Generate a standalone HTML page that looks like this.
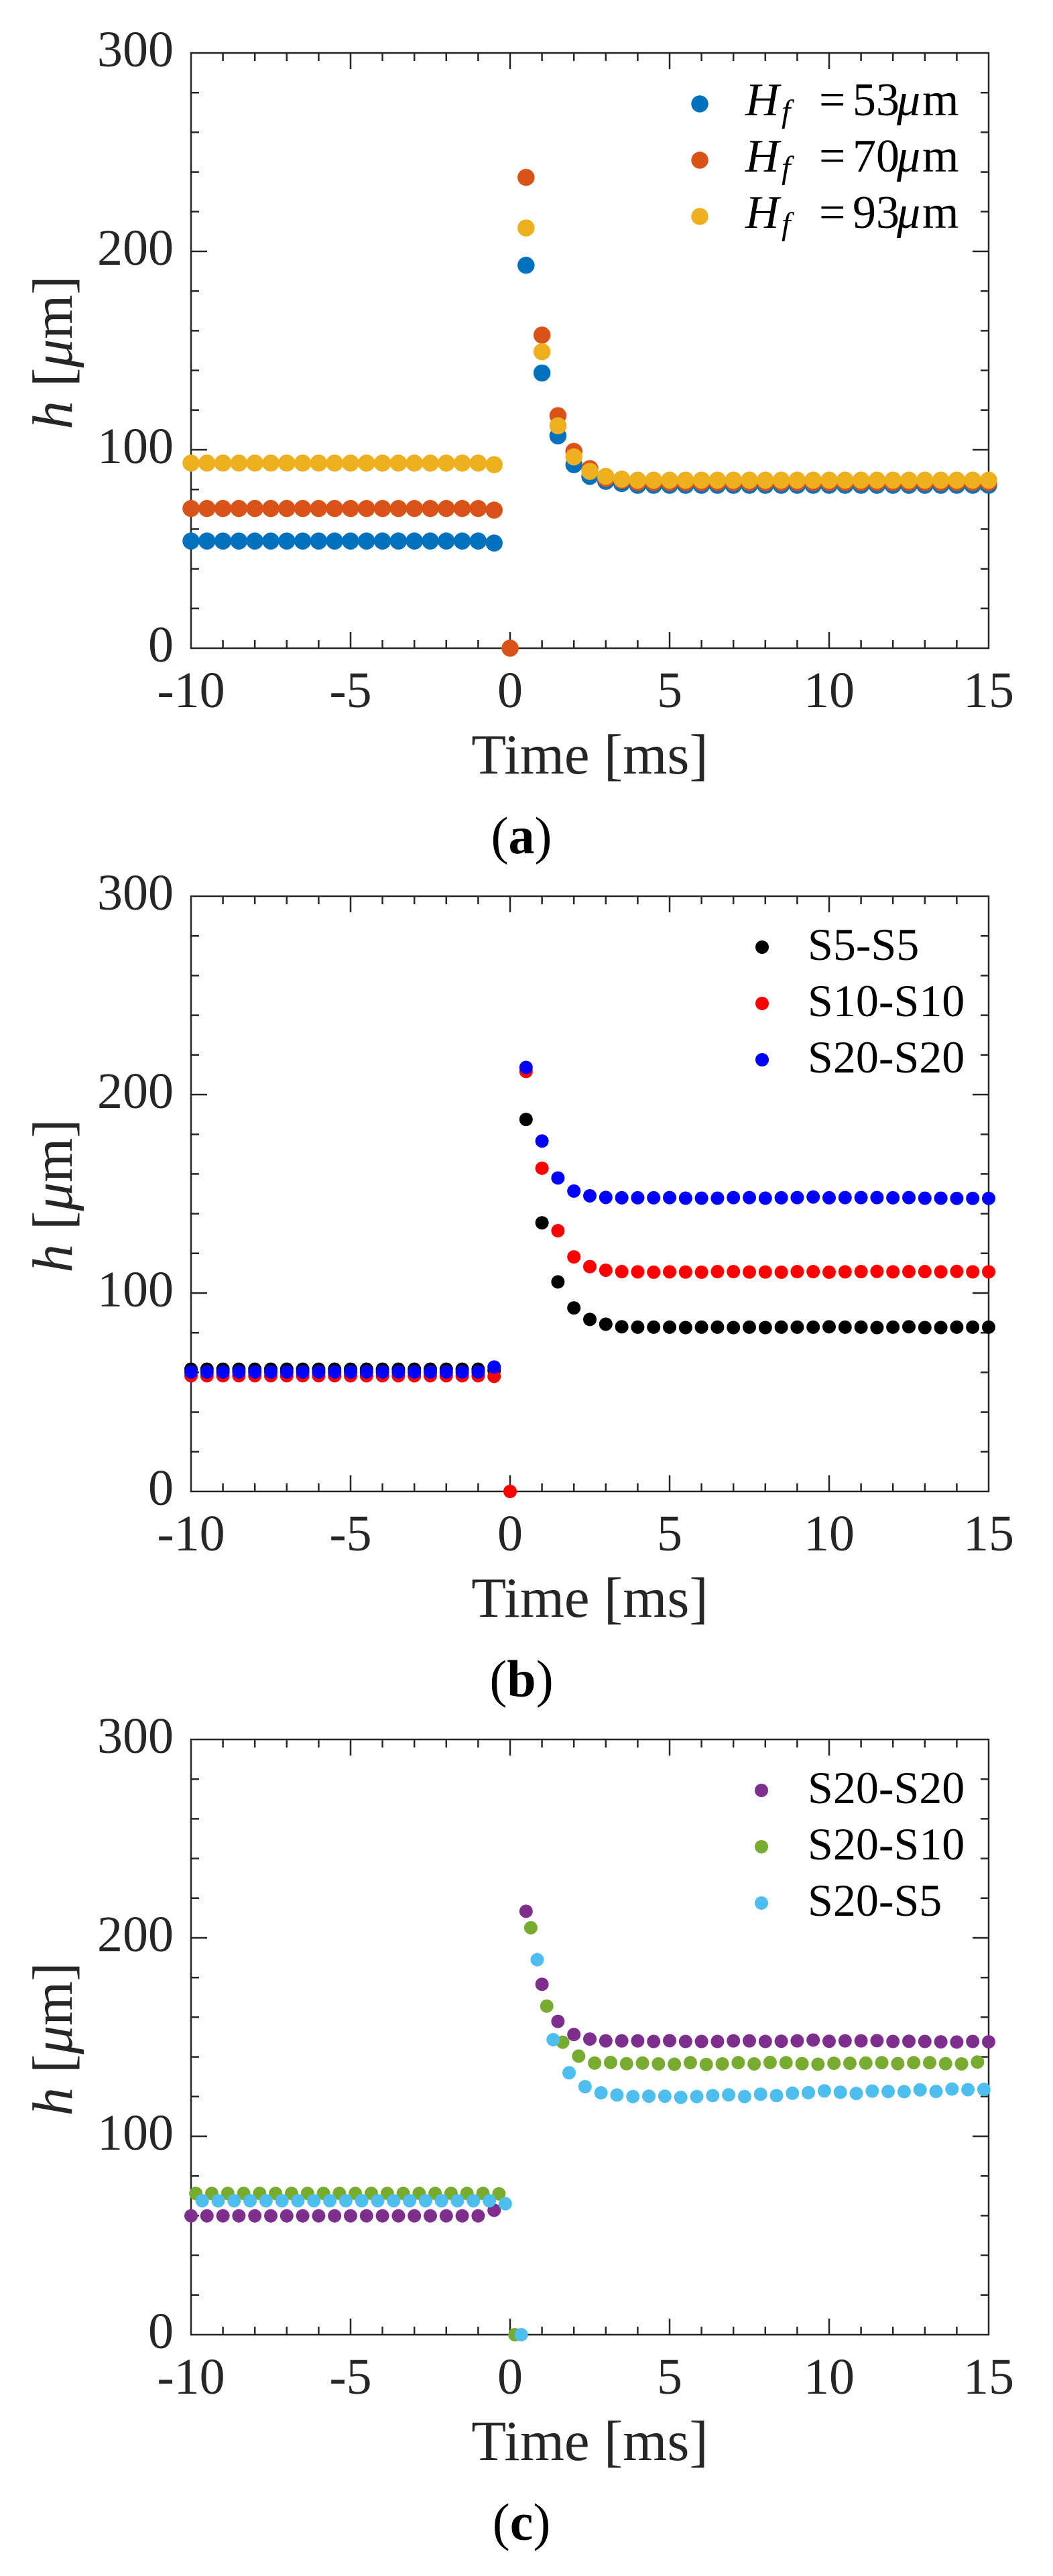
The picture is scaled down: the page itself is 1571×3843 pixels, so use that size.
<!DOCTYPE html>
<html>
<head>
<meta charset="utf-8">
<style>
html,body{margin:0;padding:0;background:#fff;}
svg{display:block;}
text{font-family:"Liberation Serif","DejaVu Serif",serif;}
</style>
</head>
<body>
<svg width="1571" height="3843" viewBox="0 0 1571 3843" xmlns="http://www.w3.org/2000/svg">
<defs>
<ellipse id="A" rx="0.2679" ry="4.307"/>
<ellipse id="B" rx="0.2101" ry="3.378"/>
<g id="axes" fill="none" stroke="#262626" stroke-width="2.5">
<rect x="285" y="79" width="1190" height="888"/>
<path d="M285 907.8h12M285 848.6h12M285 789.4h12M285 730.2h12M285 671h24M285 611.8h12M285 552.6h12M285 493.4h12M285 434.2h12M285 375h24M285 315.8h12M285 256.6h12M285 197.4h12M285 138.2h12
M1475 907.8h-12M1475 848.6h-12M1475 789.4h-12M1475 730.2h-12M1475 671h-24M1475 611.8h-12M1475 552.6h-12M1475 493.4h-12M1475 434.2h-12M1475 375h-24M1475 315.8h-12M1475 256.6h-12M1475 197.4h-12M1475 138.2h-12
M332.6 967v-12M380.2 967v-12M427.8 967v-12M475.4 967v-12M523 967v-24M570.6 967v-12M618.2 967v-12M665.8 967v-12M713.4 967v-12M761 967v-24M808.6 967v-12M856.2 967v-12M903.8 967v-12M951.4 967v-12M999 967v-24M1046.6 967v-12M1094.2 967v-12M1141.8 967v-12M1189.4 967v-12M1237 967v-24M1284.6 967v-12M1332.2 967v-12M1379.8 967v-12M1427.4 967v-12
M332.6 79v12M380.2 79v12M427.8 79v12M475.4 79v12M523 79v24M570.6 79v12M618.2 79v12M665.8 79v12M713.4 79v12M761 79v24M808.6 79v12M856.2 79v12M903.8 79v12M951.4 79v12M999 79v24M1046.6 79v12M1094.2 79v12M1141.8 79v12M1189.4 79v12M1237 79v24M1284.6 79v12M1332.2 79v12M1379.8 79v12M1427.4 79v12"/>
</g>
</defs>
<rect width="1571" height="3843" fill="#fff"/>

<!-- ================= PANEL A ================= -->
<g>
<use href="#axes"/>
<g font-size="76" fill="#262626">
<text x="259" y="99" text-anchor="end">300</text>
<text x="259" y="395" text-anchor="end">200</text>
<text x="259" y="691" text-anchor="end">100</text>
<text x="259" y="987" text-anchor="end">0</text>
<text x="285" y="1055" text-anchor="middle">-10</text>
<text x="523" y="1055" text-anchor="middle">-5</text>
<text x="761" y="1055" text-anchor="middle">0</text>
<text x="999" y="1055" text-anchor="middle">5</text>
<text x="1237" y="1055" text-anchor="middle">10</text>
<text x="1475" y="1055" text-anchor="middle">15</text>
</g>
<text x="880" y="1154" text-anchor="middle" font-size="85" fill="#262626">Time [ms]</text>
<text transform="translate(107,526) rotate(-90)" text-anchor="middle" font-size="85" fill="#262626"><tspan font-style="italic">h</tspan> [<tspan font-style="italic">μ</tspan>m]</text>
<text x="778" y="1273" text-anchor="middle" font-size="78" fill="#000">(<tspan font-weight="bold">a</tspan>)</text>

<g transform="translate(761,967) scale(47.6,-2.96)">
<g fill="#0072BD">
<use href="#A" x="-10" y="54"/><use href="#A" x="-9.5" y="54"/><use href="#A" x="-9" y="54"/><use href="#A" x="-8.5" y="54"/><use href="#A" x="-8" y="54"/><use href="#A" x="-7.5" y="54"/><use href="#A" x="-7" y="54"/><use href="#A" x="-6.5" y="54"/><use href="#A" x="-6" y="54"/><use href="#A" x="-5.5" y="54"/><use href="#A" x="-5" y="54"/><use href="#A" x="-4.5" y="54"/><use href="#A" x="-4" y="54"/><use href="#A" x="-3.5" y="54"/><use href="#A" x="-3" y="54"/><use href="#A" x="-2.5" y="54"/><use href="#A" x="-2" y="54"/><use href="#A" x="-1.5" y="54"/><use href="#A" x="-1" y="54"/><use href="#A" x="-0.5" y="53"/>
<use href="#A" x="0.5" y="193"/><use href="#A" x="1" y="138.7"/><use href="#A" x="1.5" y="107"/><use href="#A" x="2" y="92.5"/><use href="#A" x="2.5" y="86.6"/><use href="#A" x="3" y="84.1"/><use href="#A" x="3.5" y="83"/><use href="#A" x="4" y="82.1"/><use href="#A" x="4.5" y="82.1"/><use href="#A" x="5" y="82.1"/><use href="#A" x="5.5" y="82.1"/><use href="#A" x="6" y="82.1"/><use href="#A" x="6.5" y="82.1"/><use href="#A" x="7" y="82.1"/><use href="#A" x="7.5" y="82.1"/><use href="#A" x="8" y="82.1"/><use href="#A" x="8.5" y="82.1"/><use href="#A" x="9" y="82.1"/><use href="#A" x="9.5" y="82.1"/><use href="#A" x="10" y="82.1"/><use href="#A" x="10.5" y="82.1"/><use href="#A" x="11" y="82.1"/><use href="#A" x="11.5" y="82.1"/><use href="#A" x="12" y="82.1"/><use href="#A" x="12.5" y="82.1"/><use href="#A" x="13" y="82.1"/><use href="#A" x="13.5" y="82.1"/><use href="#A" x="14" y="82.1"/><use href="#A" x="14.5" y="82.1"/><use href="#A" x="15" y="82.1"/>
</g>
<g fill="#D95319">
<use href="#A" x="-10" y="70.4"/><use href="#A" x="-9.5" y="70.4"/><use href="#A" x="-9" y="70.4"/><use href="#A" x="-8.5" y="70.4"/><use href="#A" x="-8" y="70.4"/><use href="#A" x="-7.5" y="70.4"/><use href="#A" x="-7" y="70.4"/><use href="#A" x="-6.5" y="70.4"/><use href="#A" x="-6" y="70.4"/><use href="#A" x="-5.5" y="70.4"/><use href="#A" x="-5" y="70.4"/><use href="#A" x="-4.5" y="70.4"/><use href="#A" x="-4" y="70.4"/><use href="#A" x="-3.5" y="70.4"/><use href="#A" x="-3" y="70.4"/><use href="#A" x="-2.5" y="70.4"/><use href="#A" x="-2" y="70.4"/><use href="#A" x="-1.5" y="70.4"/><use href="#A" x="-1" y="70.4"/><use href="#A" x="-0.5" y="69.6"/>
<use href="#A" x="0" y="0"/>
<use href="#A" x="0.5" y="237.3"/><use href="#A" x="1" y="157.8"/><use href="#A" x="1.5" y="117.2"/><use href="#A" x="2" y="99.2"/><use href="#A" x="2.5" y="90.5"/><use href="#A" x="3" y="85.5"/><use href="#A" x="3.5" y="84.5"/><use href="#A" x="4" y="83.5"/><use href="#A" x="4.5" y="83.5"/><use href="#A" x="5" y="83.5"/><use href="#A" x="5.5" y="83.5"/><use href="#A" x="6" y="83.5"/><use href="#A" x="6.5" y="83.5"/><use href="#A" x="7" y="83.5"/><use href="#A" x="7.5" y="83.5"/><use href="#A" x="8" y="83.5"/><use href="#A" x="8.5" y="83.5"/><use href="#A" x="9" y="83.5"/><use href="#A" x="9.5" y="83.5"/><use href="#A" x="10" y="83.5"/><use href="#A" x="10.5" y="83.5"/><use href="#A" x="11" y="83.5"/><use href="#A" x="11.5" y="83.5"/><use href="#A" x="12" y="83.5"/><use href="#A" x="12.5" y="83.5"/><use href="#A" x="13" y="83.5"/><use href="#A" x="13.5" y="83.5"/><use href="#A" x="14" y="83.5"/><use href="#A" x="14.5" y="83.5"/><use href="#A" x="15" y="83.5"/>
</g>
<g fill="#EDB120">
<use href="#A" x="-10" y="93.3"/><use href="#A" x="-9.5" y="93.3"/><use href="#A" x="-9" y="93.3"/><use href="#A" x="-8.5" y="93.3"/><use href="#A" x="-8" y="93.3"/><use href="#A" x="-7.5" y="93.3"/><use href="#A" x="-7" y="93.3"/><use href="#A" x="-6.5" y="93.3"/><use href="#A" x="-6" y="93.3"/><use href="#A" x="-5.5" y="93.3"/><use href="#A" x="-5" y="93.3"/><use href="#A" x="-4.5" y="93.3"/><use href="#A" x="-4" y="93.3"/><use href="#A" x="-3.5" y="93.3"/><use href="#A" x="-3" y="93.3"/><use href="#A" x="-2.5" y="93.3"/><use href="#A" x="-2" y="93.3"/><use href="#A" x="-1.5" y="93.3"/><use href="#A" x="-1" y="93.3"/><use href="#A" x="-0.5" y="92.5"/>
<use href="#A" x="0.5" y="211.8"/><use href="#A" x="1" y="149.4"/><use href="#A" x="1.5" y="112.1"/><use href="#A" x="2" y="96.4"/><use href="#A" x="2.5" y="89.1"/><use href="#A" x="3" y="86.6"/><use href="#A" x="3.5" y="85.2"/><use href="#A" x="4" y="84.7"/><use href="#A" x="4.5" y="84.7"/><use href="#A" x="5" y="84.7"/><use href="#A" x="5.5" y="84.7"/><use href="#A" x="6" y="84.7"/><use href="#A" x="6.5" y="84.7"/><use href="#A" x="7" y="84.7"/><use href="#A" x="7.5" y="84.7"/><use href="#A" x="8" y="84.7"/><use href="#A" x="8.5" y="84.7"/><use href="#A" x="9" y="84.7"/><use href="#A" x="9.5" y="84.7"/><use href="#A" x="10" y="84.7"/><use href="#A" x="10.5" y="84.7"/><use href="#A" x="11" y="84.7"/><use href="#A" x="11.5" y="84.7"/><use href="#A" x="12" y="84.7"/><use href="#A" x="12.5" y="84.7"/><use href="#A" x="13" y="84.7"/><use href="#A" x="13.5" y="84.7"/><use href="#A" x="14" y="84.7"/><use href="#A" x="14.5" y="84.7"/><use href="#A" x="15" y="84.7"/>
</g>
</g>

<!-- legend a -->
<circle cx="1044" cy="155" r="12.75" fill="#0072BD"/>
<circle cx="1044" cy="239" r="12.75" fill="#D95319"/>
<circle cx="1044" cy="323" r="12.75" fill="#EDB120"/>
<g fill="#000" font-size="70">
<text y="172"><tspan x="1112" font-style="italic">H</tspan><tspan x="1166" dy="10" font-size="48" font-style="italic">f</tspan><tspan x="1222" dy="-10">=</tspan><tspan x="1272">53</tspan><tspan x="1338" font-style="italic">μ</tspan><tspan x="1376">m</tspan></text>
<text y="256"><tspan x="1112" font-style="italic">H</tspan><tspan x="1166" dy="10" font-size="48" font-style="italic">f</tspan><tspan x="1222" dy="-10">=</tspan><tspan x="1272">70</tspan><tspan x="1338" font-style="italic">μ</tspan><tspan x="1376">m</tspan></text>
<text y="340"><tspan x="1112" font-style="italic">H</tspan><tspan x="1166" dy="10" font-size="48" font-style="italic">f</tspan><tspan x="1222" dy="-10">=</tspan><tspan x="1272">93</tspan><tspan x="1338" font-style="italic">μ</tspan><tspan x="1376">m</tspan></text>
</g>
</g>

<!-- ================= PANEL B ================= -->
<g transform="translate(0,1258)">
<use href="#axes"/>
<g font-size="76" fill="#262626">
<text x="259" y="99" text-anchor="end">300</text>
<text x="259" y="395" text-anchor="end">200</text>
<text x="259" y="691" text-anchor="end">100</text>
<text x="259" y="987" text-anchor="end">0</text>
<text x="285" y="1055" text-anchor="middle">-10</text>
<text x="523" y="1055" text-anchor="middle">-5</text>
<text x="761" y="1055" text-anchor="middle">0</text>
<text x="999" y="1055" text-anchor="middle">5</text>
<text x="1237" y="1055" text-anchor="middle">10</text>
<text x="1475" y="1055" text-anchor="middle">15</text>
</g>
<text x="880" y="1154" text-anchor="middle" font-size="85" fill="#262626">Time [ms]</text>
<text transform="translate(107,526) rotate(-90)" text-anchor="middle" font-size="85" fill="#262626"><tspan font-style="italic">h</tspan> [<tspan font-style="italic">μ</tspan>m]</text>
<text x="778" y="1273" text-anchor="middle" font-size="78" fill="#000">(<tspan font-weight="bold">b</tspan>)</text>

<g transform="translate(761,967) scale(47.6,-2.96)">
<g fill="#000">
<use href="#B" x="-10" y="61.6"/><use href="#B" x="-9.5" y="61.6"/><use href="#B" x="-9" y="61.6"/><use href="#B" x="-8.5" y="61.6"/><use href="#B" x="-8" y="61.6"/><use href="#B" x="-7.5" y="61.6"/><use href="#B" x="-7" y="61.6"/><use href="#B" x="-6.5" y="61.6"/><use href="#B" x="-6" y="61.6"/><use href="#B" x="-5.5" y="61.6"/><use href="#B" x="-5" y="61.6"/><use href="#B" x="-4.5" y="61.6"/><use href="#B" x="-4" y="61.6"/><use href="#B" x="-3.5" y="61.6"/><use href="#B" x="-3" y="61.6"/><use href="#B" x="-2.5" y="61.6"/><use href="#B" x="-2" y="61.6"/><use href="#B" x="-1.5" y="61.6"/><use href="#B" x="-1" y="61.6"/><use href="#B" x="-0.5" y="61"/>
<use href="#B" x="0.5" y="187.5"/><use href="#B" x="1" y="135.4"/><use href="#B" x="1.5" y="105.6"/><use href="#B" x="2" y="92.5"/><use href="#B" x="2.5" y="86.7"/><use href="#B" x="3" y="84.3"/><use href="#B" x="3.5" y="83"/><use href="#B" x="4" y="82.8"/><use href="#B" x="4.5" y="82.8"/><use href="#B" x="5" y="82.8"/><use href="#B" x="5.5" y="82.6"/><use href="#B" x="6" y="82.8"/><use href="#B" x="6.5" y="82.8"/><use href="#B" x="7" y="82.6"/><use href="#B" x="7.5" y="82.8"/><use href="#B" x="8" y="82.6"/><use href="#B" x="8.5" y="82.8"/><use href="#B" x="9" y="82.8"/><use href="#B" x="9.5" y="82.8"/><use href="#B" x="10" y="83"/><use href="#B" x="10.5" y="82.8"/><use href="#B" x="11" y="82.8"/><use href="#B" x="11.5" y="82.6"/><use href="#B" x="12" y="82.8"/><use href="#B" x="12.5" y="83"/><use href="#B" x="13" y="82.6"/><use href="#B" x="13.5" y="82.6"/><use href="#B" x="14" y="82.8"/><use href="#B" x="14.5" y="82.8"/><use href="#B" x="15" y="82.8"/>
</g>
<g fill="#FF0000">
<use href="#B" x="-10" y="58.3"/><use href="#B" x="-9.5" y="58.3"/><use href="#B" x="-9" y="58.3"/><use href="#B" x="-8.5" y="58.3"/><use href="#B" x="-8" y="58.3"/><use href="#B" x="-7.5" y="58.3"/><use href="#B" x="-7" y="58.3"/><use href="#B" x="-6.5" y="58.3"/><use href="#B" x="-6" y="58.3"/><use href="#B" x="-5.5" y="58.3"/><use href="#B" x="-5" y="58.3"/><use href="#B" x="-4.5" y="58.3"/><use href="#B" x="-4" y="58.3"/><use href="#B" x="-3.5" y="58.3"/><use href="#B" x="-3" y="58.3"/><use href="#B" x="-2.5" y="58.3"/><use href="#B" x="-2" y="58.3"/><use href="#B" x="-1.5" y="58.3"/><use href="#B" x="-1" y="58.3"/><use href="#B" x="-0.5" y="58"/>
<use href="#B" x="0" y="0"/>
<use href="#B" x="0.5" y="211.7"/><use href="#B" x="1" y="162.9"/><use href="#B" x="1.5" y="131.4"/><use href="#B" x="2" y="118.2"/><use href="#B" x="2.5" y="113.3"/><use href="#B" x="3" y="111.5"/><use href="#B" x="3.5" y="110.8"/><use href="#B" x="4" y="110.7"/><use href="#B" x="4.5" y="110.5"/><use href="#B" x="5" y="110.7"/><use href="#B" x="5.5" y="110.6"/><use href="#B" x="6" y="110.5"/><use href="#B" x="6.5" y="110.8"/><use href="#B" x="7" y="110.8"/><use href="#B" x="7.5" y="110.6"/><use href="#B" x="8" y="110.6"/><use href="#B" x="8.5" y="110.5"/><use href="#B" x="9" y="110.8"/><use href="#B" x="9.5" y="110.8"/><use href="#B" x="10" y="110.5"/><use href="#B" x="10.5" y="110.7"/><use href="#B" x="11" y="110.8"/><use href="#B" x="11.5" y="110.9"/><use href="#B" x="12" y="110.7"/><use href="#B" x="12.5" y="110.8"/><use href="#B" x="13" y="110.8"/><use href="#B" x="13.5" y="110.7"/><use href="#B" x="14" y="110.9"/><use href="#B" x="14.5" y="110.7"/><use href="#B" x="15" y="110.7"/>
</g>
<g fill="#0000FF">
<use href="#B" x="-10" y="60.2"/><use href="#B" x="-9.5" y="60.2"/><use href="#B" x="-9" y="60.2"/><use href="#B" x="-8.5" y="60.2"/><use href="#B" x="-8" y="60.2"/><use href="#B" x="-7.5" y="60.2"/><use href="#B" x="-7" y="60.2"/><use href="#B" x="-6.5" y="60.2"/><use href="#B" x="-6" y="60.2"/><use href="#B" x="-5.5" y="60.2"/><use href="#B" x="-5" y="60.2"/><use href="#B" x="-4.5" y="60.2"/><use href="#B" x="-4" y="60.2"/><use href="#B" x="-3.5" y="60.2"/><use href="#B" x="-3" y="60.2"/><use href="#B" x="-2.5" y="60.2"/><use href="#B" x="-2" y="60.2"/><use href="#B" x="-1.5" y="60.2"/><use href="#B" x="-1" y="60.2"/><use href="#B" x="-0.5" y="62.7"/>
<use href="#B" x="0.5" y="213.7"/><use href="#B" x="1" y="176.6"/><use href="#B" x="1.5" y="158"/><use href="#B" x="2" y="151.4"/><use href="#B" x="2.5" y="149"/><use href="#B" x="3" y="148.2"/><use href="#B" x="3.5" y="148"/><use href="#B" x="4" y="148"/><use href="#B" x="4.5" y="148"/><use href="#B" x="5" y="148.1"/><use href="#B" x="5.5" y="147.8"/><use href="#B" x="6" y="147.8"/><use href="#B" x="6.5" y="147.8"/><use href="#B" x="7" y="148.1"/><use href="#B" x="7.5" y="148.1"/><use href="#B" x="8" y="147.8"/><use href="#B" x="8.5" y="148"/><use href="#B" x="9" y="148.1"/><use href="#B" x="9.5" y="148.4"/><use href="#B" x="10" y="148"/><use href="#B" x="10.5" y="148.1"/><use href="#B" x="11" y="148.1"/><use href="#B" x="11.5" y="148.1"/><use href="#B" x="12" y="148"/><use href="#B" x="12.5" y="148.1"/><use href="#B" x="13" y="147.8"/><use href="#B" x="13.5" y="147.8"/><use href="#B" x="14" y="147.7"/><use href="#B" x="14.5" y="147.7"/><use href="#B" x="15" y="147.7"/>
</g>
</g>

<!-- legend b -->
<circle cx="1137" cy="155" r="10" fill="#000"/>
<circle cx="1137" cy="239" r="10" fill="#FF0000"/>
<circle cx="1137" cy="323" r="10" fill="#0000FF"/>
<g fill="#000" font-size="68">
<text x="1205" y="174">S5-S5</text>
<text x="1205" y="258">S10-S10</text>
<text x="1205" y="342">S20-S20</text>
</g>
</g>

<!-- ================= PANEL C ================= -->
<g transform="translate(0,2516)">
<use href="#axes"/>
<g font-size="76" fill="#262626">
<text x="259" y="99" text-anchor="end">300</text>
<text x="259" y="395" text-anchor="end">200</text>
<text x="259" y="691" text-anchor="end">100</text>
<text x="259" y="987" text-anchor="end">0</text>
<text x="285" y="1055" text-anchor="middle">-10</text>
<text x="523" y="1055" text-anchor="middle">-5</text>
<text x="761" y="1055" text-anchor="middle">0</text>
<text x="999" y="1055" text-anchor="middle">5</text>
<text x="1237" y="1055" text-anchor="middle">10</text>
<text x="1475" y="1055" text-anchor="middle">15</text>
</g>
<text x="880" y="1154" text-anchor="middle" font-size="85" fill="#262626">Time [ms]</text>
<text transform="translate(107,526) rotate(-90)" text-anchor="middle" font-size="85" fill="#262626"><tspan font-style="italic">h</tspan> [<tspan font-style="italic">μ</tspan>m]</text>
<text x="778" y="1273" text-anchor="middle" font-size="78" fill="#000">(<tspan font-weight="bold">c</tspan>)</text>

<g transform="translate(761,967) scale(47.6,-2.96)">
<g fill="#7E2F8E">
<use href="#B" x="-10" y="59.9"/><use href="#B" x="-9.5" y="59.9"/><use href="#B" x="-9" y="59.9"/><use href="#B" x="-8.5" y="59.9"/><use href="#B" x="-8" y="59.9"/><use href="#B" x="-7.5" y="59.9"/><use href="#B" x="-7" y="59.9"/><use href="#B" x="-6.5" y="59.9"/><use href="#B" x="-6" y="59.9"/><use href="#B" x="-5.5" y="59.9"/><use href="#B" x="-5" y="59.9"/><use href="#B" x="-4.5" y="59.9"/><use href="#B" x="-4" y="59.9"/><use href="#B" x="-3.5" y="59.9"/><use href="#B" x="-3" y="59.9"/><use href="#B" x="-2.5" y="59.9"/><use href="#B" x="-2" y="59.9"/><use href="#B" x="-1.5" y="59.9"/><use href="#B" x="-1" y="59.9"/><use href="#B" x="-0.5" y="62.7"/>
<use href="#B" x="0.5" y="213.4"/><use href="#B" x="1" y="176.6"/><use href="#B" x="1.5" y="157.9"/><use href="#B" x="2" y="151.3"/><use href="#B" x="2.5" y="149"/><use href="#B" x="3" y="148.1"/><use href="#B" x="3.5" y="148.1"/><use href="#B" x="4" y="148.1"/><use href="#B" x="4.5" y="147.8"/><use href="#B" x="5" y="148.2"/><use href="#B" x="5.5" y="147.8"/><use href="#B" x="6" y="147.8"/><use href="#B" x="6.5" y="147.8"/><use href="#B" x="7" y="148.1"/><use href="#B" x="7.5" y="148.1"/><use href="#B" x="8" y="147.8"/><use href="#B" x="8.5" y="147.9"/><use href="#B" x="9" y="148.1"/><use href="#B" x="9.5" y="148.5"/><use href="#B" x="10" y="147.9"/><use href="#B" x="10.5" y="148.1"/><use href="#B" x="11" y="148.1"/><use href="#B" x="11.5" y="148.2"/><use href="#B" x="12" y="147.8"/><use href="#B" x="12.5" y="147.9"/><use href="#B" x="13" y="147.8"/><use href="#B" x="13.5" y="147.6"/><use href="#B" x="14" y="147.5"/><use href="#B" x="14.5" y="147.8"/><use href="#B" x="15" y="147.6"/>
</g>
<g fill="#77AC30">
<use href="#B" x="-9.85" y="71.2"/><use href="#B" x="-9.35" y="71.2"/><use href="#B" x="-8.85" y="71.2"/><use href="#B" x="-8.35" y="71.2"/><use href="#B" x="-7.85" y="71.2"/><use href="#B" x="-7.35" y="71.2"/><use href="#B" x="-6.85" y="71.2"/><use href="#B" x="-6.35" y="71.2"/><use href="#B" x="-5.85" y="71.2"/><use href="#B" x="-5.35" y="71.2"/><use href="#B" x="-4.85" y="71.2"/><use href="#B" x="-4.35" y="71.2"/><use href="#B" x="-3.85" y="71.2"/><use href="#B" x="-3.35" y="71.2"/><use href="#B" x="-2.85" y="71.2"/><use href="#B" x="-2.35" y="71.2"/><use href="#B" x="-1.85" y="71.2"/><use href="#B" x="-1.35" y="71.2"/><use href="#B" x="-0.85" y="71.2"/><use href="#B" x="-0.35" y="71"/>
<use href="#B" x="0.15" y="0"/>
<use href="#B" x="0.65" y="205.1"/><use href="#B" x="1.15" y="165.6"/><use href="#B" x="1.65" y="147.4"/><use href="#B" x="2.15" y="140.4"/><use href="#B" x="2.65" y="136.9"/><use href="#B" x="3.15" y="137.2"/><use href="#B" x="3.65" y="136.6"/><use href="#B" x="4.15" y="136.9"/><use href="#B" x="4.65" y="136.5"/><use href="#B" x="5.15" y="136.3"/><use href="#B" x="5.65" y="137.1"/><use href="#B" x="6.15" y="136.2"/><use href="#B" x="6.65" y="136.5"/><use href="#B" x="7.15" y="137.1"/><use href="#B" x="7.65" y="136.5"/><use href="#B" x="8.15" y="137.2"/><use href="#B" x="8.65" y="137.1"/><use href="#B" x="9.15" y="136.6"/><use href="#B" x="9.65" y="136.3"/><use href="#B" x="10.15" y="136.8"/><use href="#B" x="10.65" y="136.8"/><use href="#B" x="11.15" y="136.9"/><use href="#B" x="11.65" y="137.1"/><use href="#B" x="12.15" y="136.6"/><use href="#B" x="12.65" y="137.1"/><use href="#B" x="13.15" y="137.1"/><use href="#B" x="13.65" y="136.6"/><use href="#B" x="14.15" y="136.5"/><use href="#B" x="14.65" y="137.4"/>
</g>
<g fill="#4DBEEE">
<use href="#B" x="-9.65" y="67.5"/><use href="#B" x="-9.15" y="67.5"/><use href="#B" x="-8.65" y="67.5"/><use href="#B" x="-8.15" y="67.5"/><use href="#B" x="-7.65" y="67.5"/><use href="#B" x="-7.15" y="67.5"/><use href="#B" x="-6.65" y="67.5"/><use href="#B" x="-6.15" y="67.5"/><use href="#B" x="-5.65" y="67.5"/><use href="#B" x="-5.15" y="67.5"/><use href="#B" x="-4.65" y="67.5"/><use href="#B" x="-4.15" y="67.5"/><use href="#B" x="-3.65" y="67.5"/><use href="#B" x="-3.15" y="67.5"/><use href="#B" x="-2.65" y="67.5"/><use href="#B" x="-2.15" y="67.5"/><use href="#B" x="-1.65" y="67.5"/><use href="#B" x="-1.15" y="67.5"/><use href="#B" x="-0.65" y="67.5"/><use href="#B" x="-0.15" y="66"/>
<use href="#B" x="0.35" y="0"/>
<use href="#B" x="0.85" y="189"/><use href="#B" x="1.35" y="148.7"/><use href="#B" x="1.85" y="132"/><use href="#B" x="2.35" y="125"/><use href="#B" x="2.85" y="121.9"/><use href="#B" x="3.35" y="120.8"/><use href="#B" x="3.85" y="120"/><use href="#B" x="4.35" y="120.2"/><use href="#B" x="4.85" y="120.2"/><use href="#B" x="5.35" y="119.6"/><use href="#B" x="5.85" y="120"/><use href="#B" x="6.35" y="120.5"/><use href="#B" x="6.85" y="120.9"/><use href="#B" x="7.35" y="120"/><use href="#B" x="7.85" y="121.2"/><use href="#B" x="8.35" y="120.5"/><use href="#B" x="8.85" y="121.7"/><use href="#B" x="9.35" y="122"/><use href="#B" x="9.85" y="122.9"/><use href="#B" x="10.35" y="122.2"/><use href="#B" x="10.85" y="121.6"/><use href="#B" x="11.35" y="122.8"/><use href="#B" x="11.85" y="122.6"/><use href="#B" x="12.35" y="122.5"/><use href="#B" x="12.85" y="123.4"/><use href="#B" x="13.35" y="122.6"/><use href="#B" x="13.85" y="123.8"/><use href="#B" x="14.35" y="123.5"/><use href="#B" x="14.85" y="123.6"/>
</g>
</g>

<!-- legend c -->
<circle cx="1136" cy="155" r="10" fill="#7E2F8E"/>
<circle cx="1136" cy="239" r="10" fill="#77AC30"/>
<circle cx="1136" cy="323" r="10" fill="#4DBEEE"/>
<g fill="#000" font-size="68">
<text x="1205" y="174">S20-S20</text>
<text x="1205" y="258">S20-S10</text>
<text x="1205" y="342">S20-S5</text>
</g>
</g>
</svg>
</body>
</html>
